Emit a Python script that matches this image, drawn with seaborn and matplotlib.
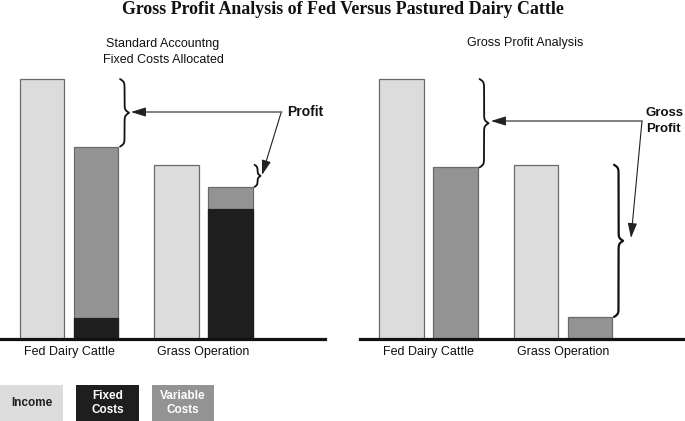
import numpy as np
import pandas as pd
import matplotlib
matplotlib.use("Agg")
import matplotlib.pyplot as plt
import seaborn as sns
from matplotlib.patches import Rectangle, FancyArrowPatch
from matplotlib.lines import Line2D

# ---------------- data ----------------
operations = ["Fed Dairy Cattle", "Grass Operation"]
income = [100, 67]
fixed_costs = [8, 50]
variable_costs = [66, 8.5]

title = "Gross Profit Analysis of Fed Versus Pastured Dairy Cattle"
panel_titles = ["Standard Accountng\nFixed Costs Allocated", "Gross Profit Analysis"]
legend_labels = ["Income", "Fixed\nCosts", "Variable\nCosts"]
annot_labels = ["Profit", "Gross\nProfit"]

# ---------------- style ----------------
LIGHT = "#dcdcdc"
MID = "#939393"
DARK = "#1e1e1e"
EDGE = "#6a6a6a"

W, H, DPI = 685, 421, 100
sns.set_theme(style="white")
plt.rcParams["font.family"] = ["Liberation Sans", "DejaVu Sans"]

fig = plt.figure(figsize=(W / DPI, H / DPI), dpi=DPI)


def fx(px):
    return px / W


def fy(py):
    return 1 - py / H


base_py, top_py = 339, 60
pxu = 2.6
cat_px = 134.5
ylim_top = (base_py - top_py) / pxu
BAR_W, GAP = 0.8, 0.176

panels = [dict(left=0, right=325, c0=69, stacked=True),
          dict(left=360, right=685, c0=428.5, stacked=False)]

axes = []
for p in panels:
    ax = fig.add_axes([fx(p["left"]), fy(base_py), (p["right"] - p["left"]) / W,
                       (base_py - top_py) / H])
    if p["stacked"]:
        cost = [f + v for f, v in zip(fixed_costs, variable_costs)]
    else:
        cost = list(variable_costs)
    df = pd.DataFrame({
        "Operation": operations * 2,
        "Kind": ["Income"] * 2 + ["Costs"] * 2,
        "Value": list(income) + cost,
    })
    sns.barplot(data=df, x="Operation", y="Value", hue="Kind", order=operations,
                hue_order=["Income", "Costs"], palette={"Income": LIGHT, "Costs": MID},
                width=BAR_W, gap=GAP, dodge=True, saturation=1, errorbar=None,
                edgecolor=EDGE, linewidth=0.9, legend=False, ax=ax)
    if p["stacked"]:
        dff = pd.DataFrame({"Operation": operations, "Kind": ["Costs"] * 2,
                            "Value": fixed_costs})
        sns.barplot(data=dff, x="Operation", y="Value", hue="Kind", order=operations,
                    hue_order=["Income", "Costs"], palette={"Income": LIGHT, "Costs": DARK},
                    width=BAR_W, gap=GAP, dodge=True, saturation=1, errorbar=None,
                    edgecolor=DARK, linewidth=0.9, legend=False, ax=ax)
    ax.set_xlim(-(p["c0"] - p["left"]) / cat_px, (p["right"] - p["c0"]) / cat_px)
    ax.set_ylim(0, ylim_top)
    ax.set_xlabel("")
    ax.set_ylabel("")
    ax.set_yticks([])
    for s in ["left", "top", "right"]:
        ax.spines[s].set_visible(False)
    ax.spines["bottom"].set_linewidth(2.3)
    ax.spines["bottom"].set_color("#111111")
    ax.tick_params(axis="x", length=0, pad=5, labelsize=9, colors="#111111")
    ax.patch.set_alpha(0)
    axes.append(ax)


def brace(ax, xd, y_lo, y_hi, w=9, b=0.7, lw=1.3, dx=2):
    x0, ylo = ax.transData.transform((xd, y_lo))
    _, yhi = ax.transData.transform((xd, y_hi))
    x0 += dx
    L = yhi - ylo
    t = np.linspace(0, L / 2, 300)
    f = 1 / (1 + np.exp(-b * t)) + 1 / (1 + np.exp(-b * (t - L / 2)))
    xs = x0 + (f - 0.5) * w
    xs_full = np.concatenate([xs, xs[::-1][1:]])
    ys_full = np.concatenate([yhi - t, (ylo + t)[::-1][1:]])
    fig.add_artist(Line2D(xs_full / W, ys_full / H, transform=fig.transFigure,
                          color="#111111", lw=lw, solid_capstyle="round"))


cost_right = 0.25 * BAR_W + 0.25 * BAR_W * (1 - GAP)
# left panel braces
brace(axes[0], 0 + cost_right, fixed_costs[0] + variable_costs[0], income[0], w=9)
brace(axes[0], 1 + cost_right, fixed_costs[1] + variable_costs[1], income[1], w=6, b=1.0)
# right panel braces
brace(axes[1], 0 + cost_right, variable_costs[0], income[0], w=9)
brace(axes[1], 1 + cost_right, variable_costs[1], income[1], w=9, lw=1.6)

arrow_kw = dict(arrowstyle="-|>,head_length=0.9,head_width=0.28", color="#222222",
                lw=0.8, shrinkA=0, shrinkB=0)


def arrow(tail, head):
    fig.add_artist(FancyArrowPatch(
        (fx(tail[0]), fy(tail[1])), (fx(head[0]), fy(head[1])),
        transform=fig.transFigure, mutation_scale=10, **arrow_kw))


arrow((282, 112), (131, 112))
arrow((281, 113), (262, 175))
arrow((642, 121), (491, 121))
arrow((642, 121), (631, 238))

fig.text(fx(287), fy(112), annot_labels[0], ha="left", va="center", fontsize=10,
         fontweight="bold", color="#111111")
fig.text(fx(646), fy(121), annot_labels[1], ha="left", va="center", fontsize=9.5,
         fontweight="bold", color="#111111", linespacing=1.35)

# titles
fig.text(0.5, fy(10), title, ha="center", va="center", fontsize=12.9, fontweight="bold",
         family=["Liberation Serif", "DejaVu Serif"], color="#111111")
fig.text(fx(163), fy(52), panel_titles[0], ha="center", va="center", fontsize=9,
         linespacing=1.45, color="#111111")
fig.text(fx(525), fy(43), panel_titles[1], ha="center", va="center", fontsize=9,
         color="#111111")

# legend boxes
leg_boxes = [(0, 63, LIGHT, DARK), (76, 139, DARK, "white"), (152, 214, MID, "white")]
for (x0, x1, fc, tc), lab in zip(leg_boxes, legend_labels):
    fig.add_artist(Rectangle((fx(x0), fy(421)), (x1 - x0) / W, 36 / H,
                             transform=fig.transFigure, facecolor=fc, edgecolor="none"))
    fig.text(fx((x0 + x1) / 2), fy(403), lab, ha="center", va="center", fontsize=8.5,
             fontweight="bold", color=tc, linespacing=1.15)

fig.savefig("out.png", dpi=DPI)
